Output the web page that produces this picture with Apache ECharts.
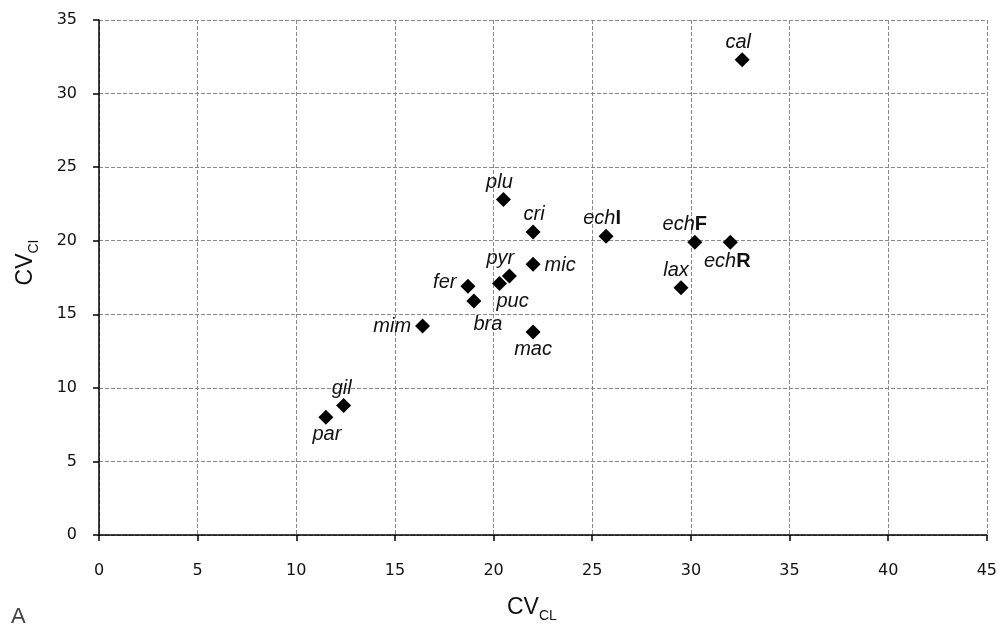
<!DOCTYPE html>
<html>
<head>
<meta charset="utf-8">
<script src="https://cdn.jsdelivr.net/npm/echarts@6/dist/echarts.min.js"></script>
<style>
  html, body { margin: 0; padding: 0; background: #fff; }
  #chart { width: 1000px; height: 628px; }
</style>
</head>
<body>
<div id="chart"></div>
<script>
// species codes with their CV values (x: CL, y: CI)
const names = ['cal', 'plu', 'cri', 'echI', 'echF', 'echR', 'lax', 'mic', 'pyr', 'puc', 'fer', 'bra', 'mim', 'mac', 'gil', 'par'];
const cvCL = [32.6, 20.5, 22.0, 25.7, 30.2, 32.0, 29.5, 22.0, 20.8, 20.3, 18.7, 19.0, 16.4, 22.0, 12.4, 11.5];
const cvCI = [32.3, 22.8, 20.6, 20.3, 19.9, 19.9, 16.8, 18.4, 17.6, 17.1, 16.9, 15.9, 14.2, 13.8, 8.8, 8.0];
const xTicks = [0, 5, 10, 15, 20, 25, 30, 35, 40, 45];
const yTicks = [0, 5, 10, 15, 20, 25, 30, 35];

// where each label sits relative to its marker
const labelPlace = {
  cal: { position: 'top', offset: [-4, 0] },
  plu: { position: 'top', offset: [-4, 0] },
  cri: { position: 'top', offset: [1, 0] },
  echI: { position: 'top', offset: [-4, 0] },
  echF: { position: 'top', offset: [-10, 0] },
  echR: { position: 'bottom', offset: [-3, 2] },
  lax: { position: 'top', offset: [-5, 0] },
  mic: { position: 'right', offset: [0, 1] },
  pyr: { position: 'top', offset: [-9, 0] },
  puc: { position: 'bottom', offset: [13, 1] },
  fer: { position: 'left', offset: [0, -4] },
  bra: { position: 'bottom', offset: [14, 6] },
  mim: { position: 'left', offset: [0, 0] },
  mac: { position: 'bottom', offset: [0, 0] },
  gil: { position: 'top', offset: [-2, 0] },
  par: { position: 'bottom', offset: [1, 0] }
};

function labelText(n) {
  if (n.indexOf('ech') === 0) return '{i|ech}{b|' + n.slice(3) + '}';
  return '{i|' + n + '}';
}

const points = names.map((n, i) => {
  const p = labelPlace[n];
  const side = p.position === 'left' || p.position === 'right';
  return {
    name: n,
    value: [cvCL[i], cvCI[i]],
    label: {
      position: p.position,
      offset: p.offset,
      distance: side ? 4 : 0
    }
  };
});

const tickFont = { color: '#111', fontFamily: 'DejaVu Sans', fontSize: 16 };
const gridLine = { show: true, lineStyle: { color: '#888', type: [4, 2], width: 1 } };
const axisLine = { show: true, onZero: false, lineStyle: { color: '#000', width: 1.5 } };
const axisTick = { show: true, length: 6, lineStyle: { color: '#000', width: 1.5 } };
const nameRich = {
  a: { fontFamily: 'Liberation Sans', fontSize: 23, color: '#111' },
  b: { fontFamily: 'Liberation Sans', fontSize: 14, color: '#111', padding: [16, 0, 0, 0] }
};

const chart = echarts.init(document.getElementById('chart'));
chart.setOption({
  animation: false,
  backgroundColor: '#fff',
  grid: { left: 99, right: 12, top: 20, bottom: 86 },
  xAxis: {
    type: 'value',
    min: xTicks[0],
    max: xTicks[xTicks.length - 1],
    interval: 5,
    name: '{a|CV}{b|CL}',
    nameLocation: 'middle',
    nameGap: 58,
    nameTextStyle: { rich: nameRich, padding: [0, 22, 0, 0] },
    axisLine: axisLine,
    axisTick: axisTick,
    axisLabel: Object.assign({ margin: 28 }, tickFont),
    splitLine: gridLine
  },
  yAxis: {
    type: 'value',
    min: yTicks[0],
    max: yTicks[yTicks.length - 1],
    interval: 5,
    name: '{a|CV}{b|CI}',
    nameLocation: 'middle',
    nameRotate: 90,
    nameGap: 58,
    nameTextStyle: { rich: nameRich, padding: [0, 0, 0, 30] },
    axisLine: axisLine,
    axisTick: axisTick,
    axisLabel: Object.assign({ margin: 22 }, tickFont),
    splitLine: gridLine
  },
  graphic: [{
    type: 'text',
    left: 11,
    top: 606,
    style: { text: 'A', fontFamily: 'Liberation Sans', fontSize: 22, fill: '#444' }
  }],
  series: [{
    type: 'scatter',
    symbol: 'diamond',
    symbolSize: 15,
    itemStyle: { color: '#000', opacity: 1 },
    label: {
      show: true,
      formatter: p => labelText(p.name),
      rich: {
        i: { fontFamily: 'Liberation Sans', fontStyle: 'italic', fontSize: 20, lineHeight: 20, color: '#111' },
        b: { fontFamily: 'Liberation Sans', fontWeight: 'bold', fontSize: 20, lineHeight: 20, color: '#111' }
      }
    },
    data: points
  }]
});
</script>
</body>
</html>
